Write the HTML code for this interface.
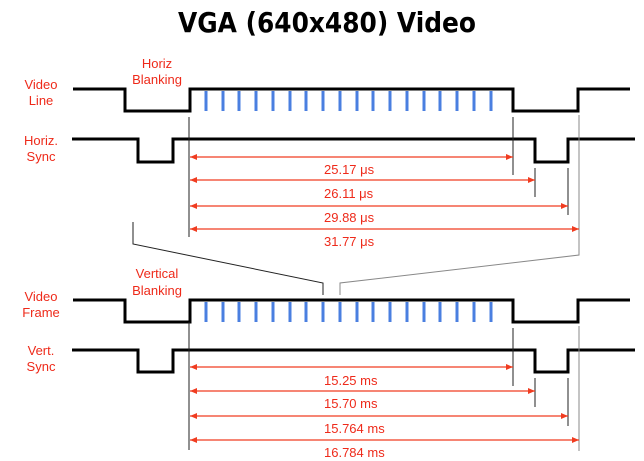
<!DOCTYPE html>
<html><head><meta charset="utf-8"><style>body{margin:0;background:#fff}svg{display:block}</style></head><body>
<svg width="644" height="461" xmlns="http://www.w3.org/2000/svg">
<text x="327" y="32" text-anchor="middle" font-family="DejaVu Sans" font-weight="bold" font-size="28" textLength="298" lengthAdjust="spacingAndGlyphs">VGA (640x480) Video</text>
<g font-family="Liberation Sans, sans-serif" font-size="13" fill="#ee2a1a" text-anchor="middle">
<text x="41" y="89">Video</text><text x="41" y="105">Line</text>
<text x="157" y="68">Horiz</text><text x="157" y="84">Blanking</text>
<text x="41" y="145">Horiz.</text><text x="41" y="161">Sync</text>
<text x="157" y="278">Vertical</text><text x="157" y="295">Blanking</text>
<text x="41" y="301">Video</text><text x="41" y="317">Frame</text>
<text x="41" y="355">Vert.</text><text x="41" y="371">Sync</text>
</g>
<g font-family="Liberation Sans, sans-serif" font-size="13" fill="#ee2a1a">
<text x="324" y="174">25.17 μs</text><text x="324" y="198">26.11 μs</text><text x="324" y="222">29.88 μs</text><text x="324" y="246">31.77 μs</text>
<text x="324" y="385">15.25 ms</text><text x="324" y="408">15.70 ms</text><text x="324" y="433">15.764 ms</text><text x="324" y="457">16.784 ms</text>
</g>
<g fill="none" stroke="#000" stroke-width="3">
<path d="M73,89 H125 V111 H190 V89 H513 V111 H578 V89 H630"/>
<path d="M72,139 H138 V162 H173 V139 H535 V162 H568 V139 H635"/>
<path d="M73,300 H125 V322 H190 V300 H513 V322 H578 V300 H630"/>
<path d="M72,350 H138 V372 H173 V350 H535 V372 H568 V350 H635"/>
</g>
<g stroke="#4a7fe0" stroke-width="3">
<path d="M206,91V111M223,91V111M239,91V111M256,91V111M273,91V111M290,91V111M306,91V111M323,91V111M340,91V111M357,91V111M373,91V111M390,91V111M407,91V111M424,91V111M440,91V111M457,91V111M474,91V111M491,91V111"/>
<path transform="translate(0,211)" d="M206,91V111M223,91V111M239,91V111M256,91V111M273,91V111M290,91V111M306,91V111M323,91V111M340,91V111M357,91V111M373,91V111M390,91V111M407,91V111M424,91V111M440,91V111M457,91V111M474,91V111M491,91V111"/>
</g>
<g stroke="#222" stroke-width="1" fill="none">
<path d="M189,117V237M513,117V175M535,168V197M568,168V215"/>
<path stroke="#888" d="M579,115V255L340,283V295"/>
<path d="M133,222V244L323,283V295"/>
<path d="M189,322V450M513,328V386M535,378V407M568,378V426"/>
<path stroke="#888" d="M579,326V451"/>
</g>
<g stroke="#f03c20" stroke-width="1.3">
<path d="M190,157H513M190,180H535M190,206H568M190,229H579"/>
<path d="M190,367H513M190,391H535M190,416H568M190,440H579"/>
</g>
<g fill="#f03c20">
<path d="M190,157l7,-3v6zM190,180l7,-3v6zM190,206l7,-3v6zM190,229l7,-3v6z"/>
<path d="M190,367l7,-3v6zM190,391l7,-3v6zM190,416l7,-3v6zM190,440l7,-3v6z"/>
<path d="M513,157l-7,-3v6zM535,180l-7,-3v6zM568,206l-7,-3v6zM579,229l-7,-3v6z"/>
<path d="M513,367l-7,-3v6zM535,391l-7,-3v6zM568,416l-7,-3v6zM579,440l-7,-3v6z"/>
</g>
</svg>
</body></html>
